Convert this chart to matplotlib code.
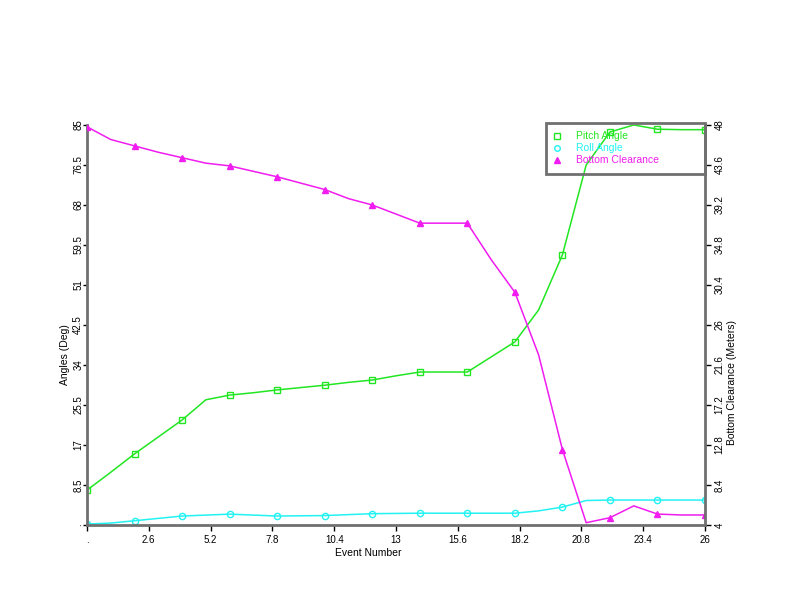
import matplotlib
matplotlib.use("Agg")
import matplotlib.pyplot as plt
from matplotlib.lines import Line2D

plt.rcParams["font.family"] = ["Liberation Sans", "DejaVu Sans"]

# data
event = list(range(27))
pitch = [7.4, 11.2, 15.1, 18.7, 22.3, 26.6, 27.6, 28.1, 28.7, 29.2, 29.7, 30.3, 30.8, 31.7,
         32.5, 32.5, 32.5, 35.7, 38.9, 45.7, 57.4, 76.5, 83.5, 85.0, 84.1, 84.0, 84.0]
roll = [0.2, 0.4, 0.9, 1.4, 1.9, 2.1, 2.3, 2.1, 1.9, 1.95, 2.0, 2.2, 2.4, 2.45,
        2.5, 2.5, 2.5, 2.5, 2.5, 3.0, 3.8, 5.2, 5.3, 5.3, 5.3, 5.3, 5.3]
clearance = [47.8, 46.4, 45.7, 45.0, 44.4, 43.8, 43.5, 42.9, 42.3, 41.6, 40.9, 39.9, 39.2, 38.2,
             37.2, 37.2, 37.2, 33.2, 29.6, 22.7, 12.3, 4.25, 4.8, 6.1, 5.2, 5.1, 5.1]

xticks = [0, 2.6, 5.2, 7.8, 10.4, 13, 15.6, 18.2, 20.8, 23.4, 26]
xlabels = [".", "2.6", "5.2", "7.8", "10.4", "13", "15.6", "18.2", "20.8", "23.4", "26"]
lticks = [0, 8.5, 17, 25.5, 34, 42.5, 51, 59.5, 68, 76.5, 85]
llabels = [".", "8.5", "17", "25.5", "34", "42.5", "51", "59.5", "68", "76.5", "85"]
rticks = [4, 8.4, 12.8, 17.2, 21.6, 26, 30.4, 34.8, 39.2, 43.6, 48]
rlabels = ["4", "8.4", "12.8", "17.2", "21.6", "26", "30.4", "34.8", "39.2", "43.6", "48"]

green = "#22e622"
cyan = "#22f2f2"
magenta = "#f01cf0"
axcol = "#707070"

fig = plt.figure(figsize=(7.92, 6.12), dpi=100)
ax = fig.add_axes([0.1098, 0.1422, 0.7804, 0.6536])
ax2 = ax.twinx()

ax.plot(event, pitch, color=green, lw=1.1, marker="s", markevery=2, ms=4.5,
        mfc="none", mec=green, mew=1.0)
ax.plot(event, roll, color=cyan, lw=1.1, marker="o", markevery=2, ms=4.5,
        mfc="none", mec=cyan, mew=1.0)
ax2.plot(event, clearance, color=magenta, lw=1.1, marker="^", markevery=2, ms=4,
         mfc=magenta, mec=magenta)

ax.set_xlim(0, 26)
ax.set_ylim(0, 85)
ax2.set_ylim(4, 48)

ax.set_xticks(xticks)
ax.set_xticklabels(xlabels, fontsize=7)
ax.set_yticks(lticks)
ax.set_yticklabels(llabels, fontsize=7, rotation=90, va="center")
ax2.set_yticks(rticks)
ax2.set_yticklabels(rlabels, fontsize=7, rotation=90, va="center")

for a in (ax, ax2):
    a.spines["top"].set_visible(False)
    for s in ("left", "right", "bottom"):
        a.spines[s].set_color(axcol)
        a.spines[s].set_linewidth(2)
    a.tick_params(direction="out", length=4, width=1, color="black")
ax.spines["right"].set_visible(False)
ax2.spines["left"].set_visible(False)
ax2.spines["bottom"].set_visible(False)
ax.tick_params(axis="x", pad=3)
ax.tick_params(axis="y", length=3, pad=-0.3)
ax2.tick_params(axis="y", pad=2.8)

ax.set_xlabel("Event Number", fontsize=7.5)
ax.xaxis.set_label_coords(0.455, -0.058)
ax.set_ylabel("Angles (Deg)", fontsize=7.5)
ax.yaxis.set_label_coords(-0.027, 0.425)
ax2.set_ylabel("Bottom Clearance (Meters)", fontsize=7.5)
ax2.yaxis.set_label_coords(1.035, 0.357)

handles = [
    Line2D([], [], ls="none", marker="s", ms=4, mfc="none", mec=green),
    Line2D([], [], ls="none", marker="o", ms=4, mfc="none", mec=cyan),
    Line2D([], [], ls="none", marker="^", ms=4, mfc=magenta, mec=magenta),
]
leg = ax2.legend(handles, ["Pitch Angle", "Roll Angle", "Bottom Clearance"],
                 loc="upper left", bbox_to_anchor=(0.7427, 1.005, 0.2573, 0.0),
                 mode="expand", fontsize=7.5,
                 fancybox=False, framealpha=1, edgecolor=axcol, borderpad=0.8,
                 handletextpad=1.44, labelspacing=0.2, borderaxespad=0,
                 handlelength=0.6)
leg.get_frame().set_linewidth(2)
leg.get_frame().set_facecolor("none")
for t, c in zip(leg.get_texts(), [green, cyan, magenta]):
    t.set_color(c)

fig.savefig("out.png", dpi=100)
